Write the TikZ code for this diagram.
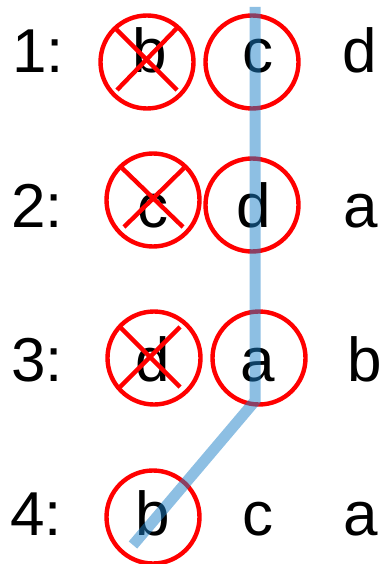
\documentclass[tikz,border=0pt]{standalone}
\usepackage{fontspec}
\setmainfont{Liberation Sans}
\begin{document}
\begin{tikzpicture}[x=1pt,y=-1pt,
  lbl/.style={anchor=base,inner sep=0pt,font=\fontsize{62}{62}\selectfont},
  ring/.style={draw=red,line width=4.4pt,circle,minimum size=93pt,inner sep=0pt},
  strike/.style={draw=red,line width=4.4pt},
  trail/.style={draw={rgb,255:red,27;green,127;blue,199},opacity=0.5,line width=11pt}]
\useasboundingbox (0,0) rectangle (384,564);
% row labels
\node[lbl] (r1) at (38,73) {1:};
\node[lbl] (r2) at (37,227) {2:};
\node[lbl] (r3) at (37,381) {3:};
\node[lbl] (r4) at (36,535) {4:};
% row 1
\node[lbl] (b1) at (150,73) {b};
\node[lbl] (c1) at (258,73) {c};
\node[lbl] (d1) at (360,73) {d};
% row 2
\node[lbl] (c2) at (153,227) {c};
\node[lbl] (d2) at (254,227) {d};
\node[lbl] (a2) at (361,227) {a};
% row 3
\node[lbl] (d3) at (153,381) {d};
\node[lbl] (a3) at (258,381) {a};
\node[lbl] (b3) at (365,381) {b};
% row 4
\node[lbl] (b4) at (153,535) {b};
\node[lbl] (c4) at (258,535) {c};
\node[lbl] (a4) at (361,535) {a};
% circles
\node[ring] (o1) at (147,62) {};
\node[ring] (o2) at (252,62) {};
\node[ring] (o3) at (153,200) {};
\node[ring] (o4) at (252,205) {};
\node[ring] (o5) at (154,358) {};
\node[ring] (o6) at (259,358) {};
\node[ring] (o7) at (153,517) {};
% crosses
\draw[strike] (115,28) -- (177,90);
\draw[strike] (117,90) -- (177,28);
\draw[strike] (122,168) -- (183,227);
\draw[strike] (124,227) -- (184,168);
\draw[strike] (120,327) -- (180,387);
\draw[strike] (120,387) -- (180,327);
% path
\coordinate (p0) at (255,7);
\coordinate (p1) at (255,401);
\coordinate (p2) at (133,545);
\draw[trail] (p0) -- (p1) -- (p2);
\end{tikzpicture}
\end{document}
